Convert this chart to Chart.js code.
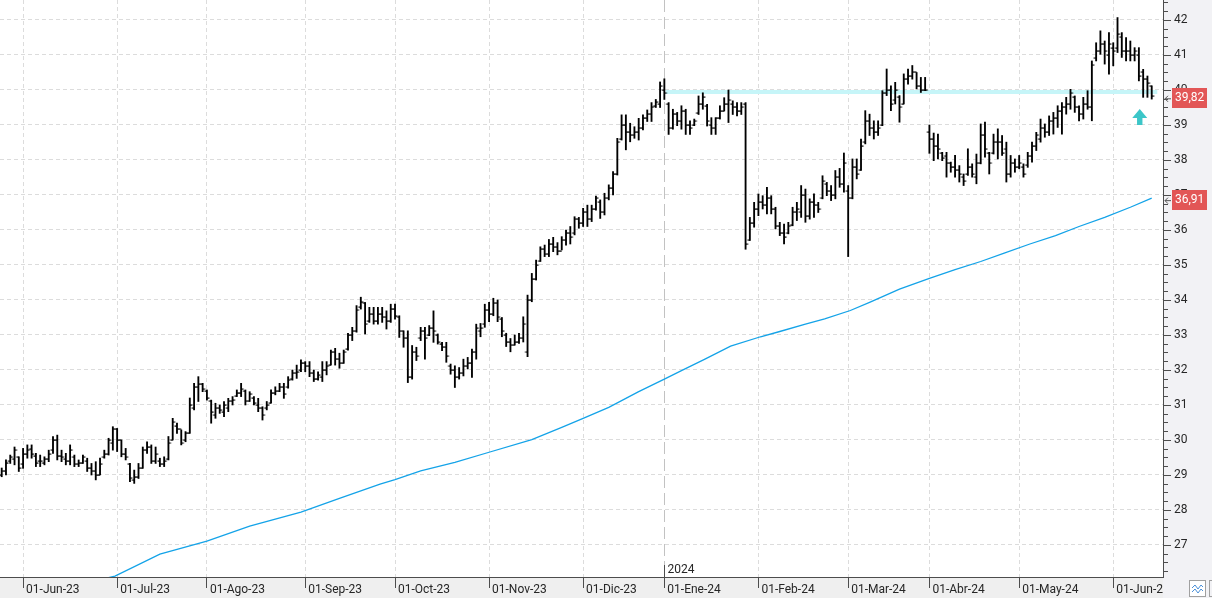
<!DOCTYPE html>
<html>
<head>
<meta charset="utf-8">
<script src="https://cdn.jsdelivr.net/npm/chart.js@4.4.1/dist/chart.umd.min.js"></script>
<style>
  html, body { margin: 0; padding: 0; background: #fff; }
  canvas { display: block; }
</style>
</head>
<body>
<canvas id="price-chart" width="1212" height="598"></canvas>
<script>
/* ============================== DATA ============================== */
const START_DATE = '2023-05-25';
const HOLIDAYS = ['2023-12-25', '2023-12-26', '2024-01-01', '2024-03-28', '2024-03-29', '2024-04-01', '2024-05-01'];
const MONTHS_ES = ['Ene', 'Feb', 'Mar', 'Abr', 'May', 'Jun', 'Jul', 'Ago', 'Sep', 'Oct', 'Nov', 'Dic'];

const opens = [
  29.00,29.10,29.40,29.45,29.50,29.30,29.60,29.75,29.55,29.40,
  29.35,29.45,29.70,30.00,29.55,29.45,29.40,29.50,29.30,29.35,
  29.40,29.20,29.10,29.00,29.50,29.60,29.90,30.30,30.00,29.60,
  29.30,28.85,28.95,29.20,29.70,29.80,29.40,29.40,29.30,29.45,
  30.00,30.40,30.30,30.00,30.20,30.90,31.50,31.60,31.40,31.10,
  30.70,30.90,30.80,30.90,31.10,31.25,31.35,31.40,31.10,31.20,
  31.00,30.90,30.90,31.05,31.35,31.40,31.50,31.50,31.75,31.90,
  32.00,32.20,32.10,31.90,31.75,31.80,32.00,32.15,32.50,32.30,
  32.20,32.60,33.00,33.10,33.80,33.90,33.40,33.60,33.40,33.60,
  33.50,33.40,33.75,33.50,33.10,32.90,31.80,32.50,32.90,33.10,
  33.00,33.20,33.00,32.75,32.65,32.10,32.00,31.80,31.90,32.10,
  32.20,32.50,33.10,33.30,33.70,33.60,33.90,33.45,33.00,32.80,
  32.70,32.80,32.90,32.50,34.00,34.60,35.10,35.45,35.30,35.60,
  35.50,35.40,35.70,35.90,35.90,36.30,36.20,36.50,36.30,36.60,
  36.80,36.50,36.90,37.20,37.60,38.60,39.00,38.80,38.70,38.80,
  38.90,39.20,39.30,39.55,39.60,40.00,39.60,38.90,39.30,39.10,
  39.40,39.00,39.00,39.35,39.60,39.55,39.00,38.90,39.20,39.40,
  39.60,39.60,39.50,39.40,39.60,35.70,36.20,36.60,36.80,36.70,
  36.90,36.60,36.10,35.90,35.90,36.15,36.50,36.50,37.00,36.40,
  36.80,36.70,36.90,37.30,37.10,37.00,37.50,37.30,37.10,36.90,
  37.80,37.70,38.50,39.10,38.90,38.80,39.00,39.90,40.00,39.70,
  39.80,39.60,40.30,40.40,40.50,40.10,40.00,38.80,38.60,38.40,
  38.20,38.10,37.90,37.80,37.70,37.50,37.60,37.80,37.50,37.90,
  38.70,38.20,38.20,38.50,38.50,38.30,37.60,37.90,37.80,37.80,
  37.85,38.10,38.40,38.60,38.90,38.80,39.10,39.20,39.40,39.50,
  39.60,39.80,39.50,39.30,39.60,39.50,40.90,41.10,41.30,41.00,
  41.20,41.20,41.50,41.10,41.10,41.00,41.00,40.50,40.30,40.10
];

const highs = [
  29.20,29.43,29.57,29.80,29.52,29.76,29.86,29.86,29.62,29.57,
  29.52,29.71,30.10,30.14,29.71,29.62,29.86,29.57,29.43,29.57,
  29.48,29.33,29.38,29.48,29.71,30.05,30.38,30.33,30.00,29.76,
  29.33,29.14,29.33,29.80,29.95,29.86,29.80,29.48,29.52,30.10,
  30.62,30.48,30.29,30.24,31.20,31.62,31.81,31.62,31.43,31.14,
  31.05,31.00,31.10,31.19,31.24,31.43,31.62,31.43,31.38,31.24,
  31.19,30.95,31.10,31.43,31.52,31.62,31.62,31.81,32.00,32.14,
  32.29,32.24,32.24,32.00,31.95,32.24,32.24,32.57,32.62,32.48,
  32.57,33.05,33.22,33.84,34.08,33.93,33.79,33.79,33.79,33.79,
  33.69,33.88,33.88,33.55,33.12,33.12,32.70,32.65,33.22,33.22,
  33.27,33.69,33.03,32.79,32.79,32.17,32.12,32.07,32.31,32.36,
  32.60,33.31,33.33,33.88,33.93,34.05,34.00,33.50,33.05,32.90,
  33.00,33.05,33.52,34.14,34.76,35.14,35.52,35.57,35.73,35.79,
  35.64,35.81,36.00,36.10,36.38,36.36,36.62,36.71,36.71,36.97,
  36.86,37.05,37.29,37.67,38.62,39.29,39.29,39.05,38.95,39.19,
  39.29,39.43,39.64,39.73,40.23,40.32,39.64,39.45,39.36,39.55,
  39.45,39.12,39.17,39.83,39.92,39.59,39.21,39.21,39.55,39.78,
  40.00,39.69,39.64,39.64,39.64,36.36,36.79,37.03,36.98,37.22,
  36.98,36.65,36.22,36.17,36.22,36.65,36.79,37.27,37.17,36.89,
  37.03,36.79,37.55,37.36,37.27,37.70,37.76,38.20,37.27,38.03,
  38.03,38.60,39.41,39.31,39.12,39.12,39.98,40.60,40.12,40.22,
  39.84,40.46,40.60,40.70,40.50,40.36,40.36,39.00,38.77,38.74,
  38.22,38.22,37.94,38.13,37.84,37.60,38.32,37.89,38.17,39.03,
  39.08,38.22,38.74,38.89,38.70,38.51,38.13,38.03,38.13,37.89,
  38.22,38.51,38.79,39.17,39.03,39.26,39.36,39.55,39.64,39.79,
  40.02,39.83,39.55,39.79,39.98,40.83,41.35,41.69,41.40,41.64,
  41.35,42.07,41.64,41.50,41.40,41.21,41.21,40.59,40.40,40.12
];

const lows = [
  28.95,29.00,29.33,29.29,29.10,29.19,29.48,29.48,29.24,29.24,
  29.29,29.38,29.62,29.43,29.38,29.29,29.29,29.24,29.24,29.33,
  29.10,29.00,28.86,29.00,29.48,29.57,29.71,29.67,29.52,29.43,
  28.81,28.76,28.90,29.19,29.62,29.33,29.33,29.24,29.24,29.43,
  30.00,30.19,29.86,29.95,30.19,30.86,31.10,31.38,31.14,30.48,
  30.62,30.76,30.67,30.81,31.00,31.24,31.24,31.00,31.10,31.00,
  30.81,30.57,30.86,31.05,31.29,31.38,31.19,31.48,31.71,31.76,
  31.95,31.95,31.81,31.67,31.71,31.67,31.86,32.14,32.14,32.05,
  32.19,32.57,32.84,33.08,33.74,33.03,33.36,33.31,33.31,33.36,
  33.17,33.36,33.45,32.93,32.65,31.64,31.74,32.27,32.84,32.31,
  32.98,32.79,32.74,32.55,32.22,31.88,31.50,31.74,31.83,32.03,
  31.79,32.31,32.95,33.22,33.38,33.55,33.38,32.95,32.67,32.52,
  32.71,32.76,32.80,32.38,33.95,34.57,35.10,35.24,35.24,35.38,
  35.29,35.43,35.57,35.60,35.86,36.05,36.10,36.10,36.24,36.57,
  36.33,36.43,36.86,37.00,37.57,38.57,38.29,38.52,38.62,38.57,
  38.86,39.10,39.10,39.50,39.50,39.73,38.73,38.88,38.98,38.88,
  38.73,38.73,38.98,39.30,39.45,38.97,38.73,38.73,39.17,39.40,
  39.07,39.30,39.26,39.30,35.45,35.70,36.08,36.41,36.60,36.46,
  36.46,36.03,35.84,35.60,35.89,36.12,36.27,36.36,36.22,36.31,
  36.36,36.50,36.89,36.98,36.84,36.89,37.22,37.08,35.24,36.89,
  37.46,37.70,38.46,38.70,38.60,38.70,38.98,39.84,39.41,39.60,
  39.08,39.60,40.17,40.31,40.03,39.93,39.98,38.19,37.98,38.03,
  37.98,37.51,37.65,37.51,37.37,37.27,37.56,37.51,37.32,37.89,
  38.08,37.60,38.17,38.03,38.13,37.37,37.51,37.65,37.75,37.51,
  37.79,37.94,38.27,38.51,38.65,38.70,38.74,38.93,38.74,39.31,
  39.45,39.36,39.12,39.17,39.45,39.12,40.83,41.02,40.74,40.45,
  40.69,41.07,40.93,40.83,40.83,40.83,40.26,39.79,39.79,39.74
];

const closes = [
  29.10,29.35,29.50,29.70,29.20,29.60,29.70,29.60,29.35,29.40,
  29.45,29.60,30.00,29.55,29.50,29.40,29.70,29.30,29.35,29.50,
  29.20,29.10,29.00,29.30,29.60,30.00,30.30,30.00,29.60,29.50,
  28.90,28.95,29.20,29.70,29.80,29.40,29.60,29.30,29.40,29.90,
  30.50,30.30,29.90,30.20,31.00,31.50,31.60,31.45,31.20,30.80,
  30.90,30.85,31.00,31.10,31.15,31.35,31.45,31.10,31.30,31.05,
  30.90,30.70,31.00,31.35,31.40,31.50,31.30,31.70,31.90,31.95,
  32.20,32.10,31.90,31.75,31.85,32.00,32.10,32.50,32.30,32.20,
  32.50,33.00,33.10,33.70,33.95,33.30,33.60,33.40,33.60,33.50,
  33.40,33.75,33.55,33.10,32.90,31.80,32.50,32.40,33.10,32.90,
  33.20,33.10,32.80,32.65,32.40,32.00,31.80,31.90,32.10,32.20,
  32.50,33.20,33.20,33.70,33.60,33.90,33.50,33.10,32.80,32.70,
  32.80,32.90,33.30,34.00,34.60,35.00,35.45,35.30,35.60,35.50,
  35.40,35.70,35.90,35.80,36.30,36.20,36.50,36.30,36.60,36.90,
  36.50,36.90,37.20,37.60,38.50,39.00,38.80,38.70,38.80,38.90,
  39.20,39.30,39.50,39.65,40.10,39.90,38.90,39.30,39.10,39.40,
  39.00,38.90,39.10,39.60,39.80,39.10,38.90,39.20,39.40,39.60,
  39.70,39.50,39.40,39.50,35.60,36.20,36.60,36.80,36.70,36.90,
  36.60,36.10,35.90,35.80,36.10,36.50,36.60,37.00,36.40,36.80,
  36.70,36.60,37.40,37.10,37.00,37.50,37.30,37.90,36.90,37.80,
  37.60,38.40,39.10,38.90,38.80,38.90,39.90,40.00,39.60,40.00,
  39.50,40.30,40.40,40.50,40.10,40.00,40.00,38.60,38.40,38.30,
  38.05,37.90,37.80,37.70,37.60,37.40,37.80,37.60,37.90,38.70,
  38.30,37.90,38.50,38.50,38.20,37.60,37.90,37.80,37.90,37.60,
  38.10,38.40,38.70,38.90,38.80,39.10,39.20,39.40,39.50,39.60,
  39.90,39.50,39.30,39.60,39.50,40.70,41.10,41.30,41.10,41.30,
  41.10,41.60,41.10,41.10,41.00,41.10,40.40,40.30,40.20,39.82
];

// moving average (read at sampled sessions)
const maIdx = [25, 26.5, 37, 48, 58, 70, 79, 88.5, 92, 98, 106, 114, 124, 131, 136, 142, 149, 155, 159, 164.5, 170.5, 177.5, 182, 188, 192.5, 198.5, 203, 210, 217, 223, 229, 234.5, 240.5, 246.5, 252, 258, 264, 269];
const maVal = [26.07, 26.11, 26.74, 27.11, 27.54, 27.94, 28.33, 28.74, 28.87, 29.12, 29.36, 29.65, 30.01, 30.36, 30.62, 30.93, 31.38, 31.74, 31.98, 32.31, 32.68, 32.95, 33.10, 33.31, 33.46, 33.70, 33.93, 34.31, 34.62, 34.87, 35.10, 35.34, 35.60, 35.84, 36.10, 36.36, 36.65, 36.91];

// resistance band
const bandLevel = 39.94;
const bandFrom = 155.3;
const bandTo = 270.3;

// arrow marker
const arrowIdx = 266.2;
const arrowTip = 39.46;

/* ============================== STYLE ============================== */
const GRID = '#dcdcdc';
const AXIS = '#4d4d4d';
const TEXT = '#262626';
const MA_COLOR = '#14a3e8';
const BAND_COLOR = '#c6f5f8';
const ARROW_COLOR = '#3cc6c8';
const TAG_COLOR = '#e25656';

const Y_MIN = 26.0857, Y_MAX = 42.5714;
const X_MIN = -0.398, X_MAX = 271.64;

/* ============================== SESSIONS ============================== */
function buildSessions(start, count) {
    const out = [];
    const d = new Date(start + 'T12:00:00Z');
    while (out.length < count) {
        const iso = d.toISOString().slice(0, 10);
        const wd = d.getUTCDay();
        if (wd !== 0 && wd !== 6 && !HOLIDAYS.includes(iso)) out.push(iso);
        d.setUTCDate(d.getUTCDate() + 1);
    }
    return out;
}

const sessions = buildSessions(START_DATE, closes.length);
const monthStarts = [];
sessions.forEach((s, i) => {
    if (i > 0 && s.slice(0, 7) !== sessions[i - 1].slice(0, 7)) monthStarts.push(i);
});
const janIdx = monthStarts.find(i => sessions[i].slice(5, 7) === '01');

function monthLabel(i) {
    const s = sessions[i];
    if (!s) return '';
    return '01-' + MONTHS_ES[+s.slice(5, 7) - 1] + '-' + s.slice(2, 4);
}

/* ============================== TICK IMAGES ============================== */
function tickImage(side) {
    const c = document.createElement('canvas');
    c.width = 8; c.height = 2;
    const g = c.getContext('2d');
    g.fillStyle = '#000';
    g.fillRect(side === 'open' ? 1.5 : 4, 0.5, 2.5, 1.2);
    return c;
}

/* ============================== PLUGIN ============================== */
const decorPlugin = {
    id: 'decor',
    beforeDraw(chart) {
        const { ctx, chartArea: a, width, height } = chart;
        ctx.save();
        ctx.fillStyle = '#ffffff';
        ctx.fillRect(0, 0, width, height);
        ctx.fillStyle = '#efefef';
        ctx.fillRect(0, a.bottom, a.right, height - a.bottom);
        ctx.fillStyle = '#f2f2f5';
        ctx.fillRect(a.right, 0, width - a.right, height);
        ctx.restore();

        // keep the month labels from spilling into the price panel
        const xs = chart.scales.x;
        if (!xs.__clipped) {
            const orig = xs.drawLabels;
            xs.drawLabels = function(area) {
                const c = this.ctx;
                c.save();
                c.beginPath();
                c.rect(0, 0, this.right, chart.height);
                c.clip();
                orig.call(this, area);
                c.restore();
            };
            xs.__clipped = true;
        }
    },
    afterDraw(chart) {
        const { ctx, chartArea: a } = chart;
        const xs = chart.scales.x, ys = chart.scales.y;
        ctx.save();

        // y tick marks (long on whole numbers)
        ctx.strokeStyle = AXIS;
        ctx.lineWidth = 1;
        ys.ticks.forEach(t => {
            const y = Math.round(ys.getPixelForValue(t.value)) + 0.5;
            const len = Number.isInteger(t.value) ? 8 : 5;
            ctx.beginPath();
            ctx.moveTo(a.right, y);
            ctx.lineTo(a.right + len, y);
            ctx.stroke();
        });

        // year marker
        const jx = Math.round(xs.getPixelForValue(janIdx)) + 0.5;
        ctx.beginPath();
        ctx.moveTo(jx, a.bottom - 12);
        ctx.lineTo(jx, a.bottom);
        ctx.stroke();
        ctx.fillStyle = TEXT;
        ctx.font = '12px Roboto';
        ctx.textBaseline = 'alphabetic';
        ctx.fillText(sessions[janIdx].slice(0, 4), jx + 3, a.bottom - 4);

        // up arrow
        const ax = xs.getPixelForValue(arrowIdx);
        const ay = ys.getPixelForValue(arrowTip);
        ctx.fillStyle = ARROW_COLOR;
        ctx.beginPath();
        ctx.moveTo(ax, ay);
        ctx.lineTo(ax + 7.5, ay + 9);
        ctx.lineTo(ax + 2.7, ay + 9);
        ctx.lineTo(ax + 2.7, ay + 16);
        ctx.lineTo(ax - 2.7, ay + 16);
        ctx.lineTo(ax - 2.7, ay + 9);
        ctx.lineTo(ax - 7.5, ay + 9);
        ctx.closePath();
        ctx.fill();

        // price tags
        const tags = [closes[closes.length - 1], maVal[maVal.length - 1]];
        tags.forEach(v => {
            const y = ys.getPixelForValue(v) + 2;
            ctx.fillStyle = TAG_COLOR;
            ctx.fillRect(a.right + 9, Math.round(y - 10), 35, 20);
            ctx.fillStyle = '#ffffff';
            ctx.font = '12px Roboto';
            ctx.textBaseline = 'middle';
            ctx.fillText(v.toFixed(2).replace('.', ','), a.right + 12, y);
            ctx.strokeStyle = '#555';
            ctx.lineWidth = 1;
            ctx.beginPath();
            ctx.moveTo(a.right + 8, y + 0.5);
            ctx.lineTo(a.right + 2, y + 0.5);
            ctx.moveTo(a.right + 5, y - 2.5);
            ctx.lineTo(a.right + 2, y + 0.5);
            ctx.lineTo(a.right + 5, y + 3.5);
            ctx.stroke();
        });

        // small toolbar icon bottom right
        ctx.fillStyle = '#ffffff';
        ctx.fillRect(1189.5, 580.5, 16, 16);
        ctx.strokeStyle = '#a0a0a0';
        ctx.strokeRect(1189.5, 580.5, 16, 16);
        ctx.strokeRect(1209.5, 580.5, 16, 16);
        ctx.strokeStyle = '#4a8fd8';
        ctx.beginPath();
        ctx.moveTo(1192, 588); ctx.lineTo(1195, 585); ctx.lineTo(1198, 589); ctx.lineTo(1201, 585); ctx.lineTo(1203, 587);
        ctx.moveTo(1192, 592); ctx.lineTo(1195, 589); ctx.lineTo(1198, 593); ctx.lineTo(1201, 589); ctx.lineTo(1203, 591);
        ctx.stroke();

        ctx.restore();
    }
};

/* ============================== CHART ============================== */
function priceChart() {
    const ctx = document.getElementById('price-chart').getContext('2d');
    Chart.defaults.font.family = 'Roboto';
    Chart.defaults.font.size = 12;

    const idx = closes.map((c, i) => i);

    new Chart(ctx, {
        type: 'bar',
        data: {
            datasets: [
                {
                    type: 'scatter',
                    data: idx.map(i => ({ x: i, y: opens[i] })),
                    pointStyle: tickImage('open'),
                    pointRadius: 2,
                    order: 0
                },
                {
                    type: 'scatter',
                    data: idx.map(i => ({ x: i, y: closes[i] })),
                    pointStyle: tickImage('close'),
                    pointRadius: 2,
                    order: 0
                },
                {
                    type: 'bar',
                    data: idx.map(i => ({ x: i, y: [lows[i], highs[i]] })),
                    backgroundColor: '#000000',
                    borderWidth: 0,
                    barThickness: 1.2,
                    order: 1
                },
                {
                    type: 'line',
                    data: maIdx.map((x, i) => ({ x: x, y: maVal[i] })),
                    borderColor: MA_COLOR,
                    borderWidth: 1.3,
                    pointRadius: 0,
                    tension: 0,
                    order: 2
                },
                {
                    type: 'line',
                    data: [{ x: bandFrom, y: bandLevel }, { x: bandTo, y: bandLevel }],
                    borderColor: BAND_COLOR,
                    borderWidth: 4,
                    borderCapStyle: 'butt',
                    pointRadius: 0,
                    order: 3
                }
            ]
        },
        options: {
            responsive: false,
            devicePixelRatio: 1,
            animation: false,
            events: [],
            layout: { padding: 0, autoPadding: false },
            plugins: {
                legend: { display: false },
                tooltip: { enabled: false }
            },
            scales: {
                x: {
                    type: 'linear',
                    min: X_MIN,
                    max: X_MAX,
                    offset: false,
                    afterBuildTicks: s => { s.ticks = monthStarts.map(v => ({ value: v })); },
                    afterFit: s => { s.height = 21; s.paddingLeft = 0; s.paddingRight = 0; },
                    grid: {
                        offset: false,
                        color: c => (c.tick && c.tick.value === janIdx) ? '#c2c2c2' : GRID,
                        lineWidth: 1,
                        tickColor: AXIS,
                        tickLength: 11
                    },
                    border: {
                        color: AXIS,
                        width: 1,
                        dash: c => c.tick ? (c.tick.value === janIdx ? [12, 5] : [4, 3]) : []
                    },
                    ticks: {
                        autoSkip: false,
                        maxRotation: 0,
                        align: 'start',
                        padding: -5,
                        labelOffset: 3,
                        color: TEXT,
                        callback: v => monthLabel(v)
                    }
                },
                y: {
                    position: 'right',
                    min: Y_MIN,
                    max: Y_MAX,
                    afterBuildTicks: s => {
                        const t = [];
                        for (let q = Math.ceil(s.min * 4); q / 4 <= s.max; q++) t.push({ value: q / 4 });
                        s.ticks = t;
                    },
                    afterFit: s => { s.width = 49; s.paddingTop = 0; s.paddingBottom = 0; },
                    grid: {
                        color: c => (c.tick && Number.isInteger(c.tick.value)) ? GRID : 'rgba(0,0,0,0)',
                        lineWidth: 1,
                        drawTicks: false
                    },
                    border: {
                        color: AXIS,
                        width: 1,
                        dash: c => c.tick ? [4, 3] : []
                    },
                    ticks: {
                        autoSkip: false,
                        padding: 11,
                        color: TEXT,
                        callback: v => Number.isInteger(v) ? String(v) : ''
                    }
                }
            }
        },
        plugins: [decorPlugin]
    });
}

priceChart();
</script>
</body>
</html>
